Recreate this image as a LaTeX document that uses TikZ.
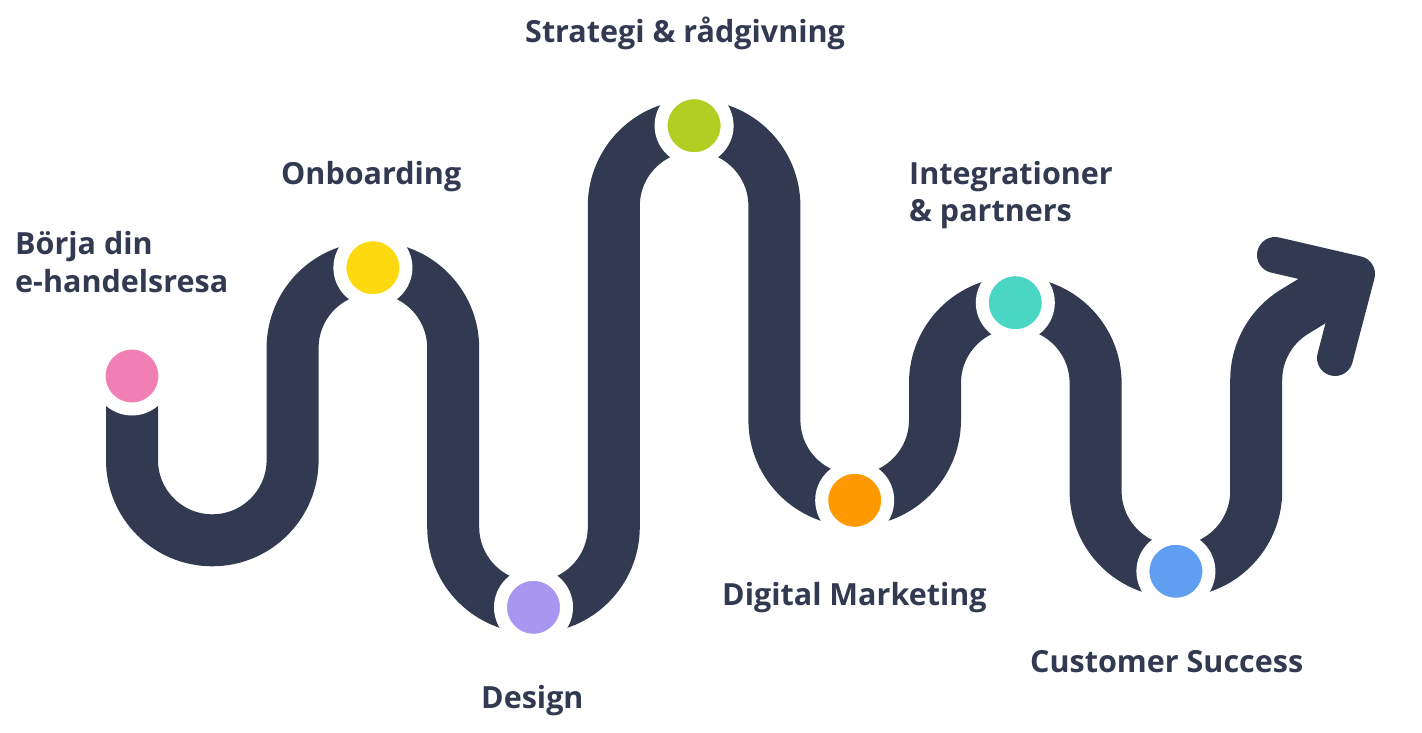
\documentclass[tikz,border=0pt]{standalone}
\usepackage{fontspec}
\setmainfont{Open Sans}
\definecolor{road}{HTML}{323A51}
\definecolor{cpink}{HTML}{F07FB4}
\definecolor{cyellow}{HTML}{FFD90F}
\definecolor{cpurple}{HTML}{A996F0}
\definecolor{cgreen}{HTML}{B2CE22}
\definecolor{corange}{HTML}{FF9900}
\definecolor{cteal}{HTML}{49D6C2}
\definecolor{cblue}{HTML}{609EF2}
\begin{document}
\begin{tikzpicture}[x=1pt,y=1pt,
  roadline/.style={draw=road,line width=52pt},
  armline/.style={draw=road,line width=36pt,line cap=round,line join=round},
  dot/.style={circle,minimum size=66pt,inner sep=0pt,draw=white,line width=13pt},
  lbl/.style={anchor=base west,inner sep=0pt,text=road,font=\fontsize{30.5}{38}\selectfont\bfseries}]
\useasboundingbox (0,0) rectangle (1422,732);
\def\r{80.3}
% road
\coordinate (shaftend) at (1340,448);
\draw[roadline] (132,356) -- (132,272)
  arc[start angle=180,end angle=360,radius=\r] -- (292.6,384)
  arc[start angle=180,end angle=0,radius=\r] -- (453.2,205)
  arc[start angle=180,end angle=360,radius=\r] -- (613.8,526)
  arc[start angle=180,end angle=0,radius=\r] -- (774.4,312)
  arc[start angle=180,end angle=360,radius=\r] -- (935.0,349)
  arc[start angle=180,end angle=0,radius=\r] -- (1095.6,241)
  arc[start angle=180,end angle=360,radius=\r] -- (1256.2,352)
  arc[start angle=180,end angle=121,radius=80] -- (shaftend);
\coordinate (tipA) at (1275,477);
\coordinate (tipV) at (1357,458);
\coordinate (tipB) at (1335,374);
\draw[armline] (tipA) -- (tipV) -- (tipB);
% dots
\node[dot,fill=cpink] (d1) at (132,356) {};
\node[dot,fill=cyellow] (d2) at (372.9,464.3) {};
\node[dot,fill=cpurple] (d3) at (533.5,124.7) {};
\node[dot,fill=cgreen] (d4) at (694.1,606.3) {};
\node[dot,fill=corange] (d5) at (854.7,231.7) {};
\node[dot,fill=cteal] (d6) at (1015.3,429.3) {};
\node[dot,fill=cblue] (d7) at (1175.9,160.7) {};
% labels
\node[lbl] (t1a) at (15,477) {Börja din};
\node[lbl] (t1b) at (15,439) {e-handelsresa};
\node[lbl] (t2) at (281,547) {Onboarding};
\node[lbl] (t3) at (481,24) {Design};
\node[lbl] (t4) at (525,689) {Strategi \& rådgivning};
\node[lbl] (t5) at (722,127) {Digital Marketing};
\node[lbl] (t6a) at (909,547) {Integrationer};
\node[lbl] (t6b) at (909,510) {\& partners};
\node[lbl] (t7) at (1030,60) {Customer Success};
\end{tikzpicture}
\end{document}
